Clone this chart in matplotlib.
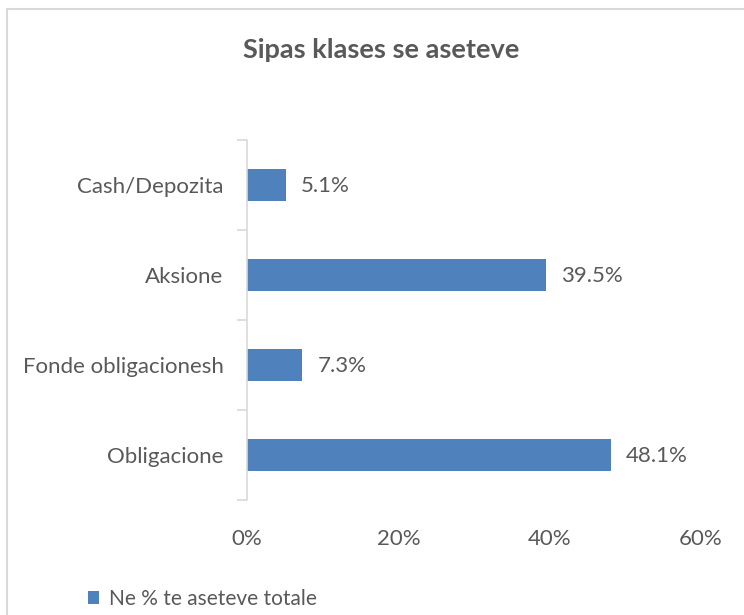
import matplotlib.pyplot as plt
from matplotlib.patches import Rectangle

plt.rcParams['font.family'] = ['Lato', 'DejaVu Sans']

categories = ["Cash/Depozita", "Aksione", "Fonde obligacionesh", "Obligacione"]
values = [5.1, 39.5, 7.3, 48.1]
xticks = [0, 20, 40, 60]
title = "Sipas klases se aseteve"
series_name = "Ne % te aseteve totale"

bar_color = "#4F81BD"
text_color = "#595959"
line_color = "#D9D9D9"

fig = plt.figure(figsize=(7.44, 6.15), dpi=100)
ax = fig.add_axes([247/744, 1 - 500/615, (701 - 247)/744, 360/615])

# top category first
pos = list(range(len(categories)))[::-1]
bars = ax.barh(pos, values, height=0.36, color=bar_color, label=series_name)

for p, v in zip(pos, values):
    ax.annotate(f"{v:.1f}%", (v, p), xytext=(11, -1), textcoords="offset points",
                va="center", ha="left", fontsize=16, color=text_color)

ax.set_xlim(0, 60)
ax.set_ylim(-0.5, len(categories) - 0.5)
ax.set_xticks(xticks)
ax.set_xticklabels([f"{t}%" for t in xticks], fontsize=16, color=text_color)
ax.tick_params(axis="x", length=0, pad=21)

# boundary ticks on y axis, labels at category centres
ax.set_yticks([i - 0.5 for i in range(len(categories) + 1)])
ax.set_yticklabels([])
ax.tick_params(axis="y", which="major", length=7, width=1.2, color=line_color, direction="out")
ax.set_yticks(pos, minor=True)
ax.set_yticklabels(categories, minor=True, fontsize=16, color=text_color)
ax.tick_params(axis="y", which="minor", length=0, pad=17)

for s in ["top", "right", "bottom"]:
    ax.spines[s].set_visible(False)
ax.spines["left"].set_color(line_color)
ax.spines["left"].set_linewidth(1.2)

fig.text(381/744, 1 - 50/615, title, ha="center", va="center",
         fontsize=19.5, fontweight="bold", color=text_color)

fig.legend(handles=[bars], loc="center left", bbox_to_anchor=(88/744, 1 - 599/615),
           frameon=False, fontsize=15, labelcolor=text_color,
           handlelength=0.55, handleheight=0.55, handletextpad=0.45,
           borderpad=0, borderaxespad=0)

# chart border (cut off on the right and bottom)
fig.add_artist(Rectangle((7/744, -0.1), 2, 1.1 - 9/615, transform=fig.transFigure,
                         fill=False, edgecolor=line_color, linewidth=1.5, clip_on=False))

fig.savefig("out.png", dpi=100)
